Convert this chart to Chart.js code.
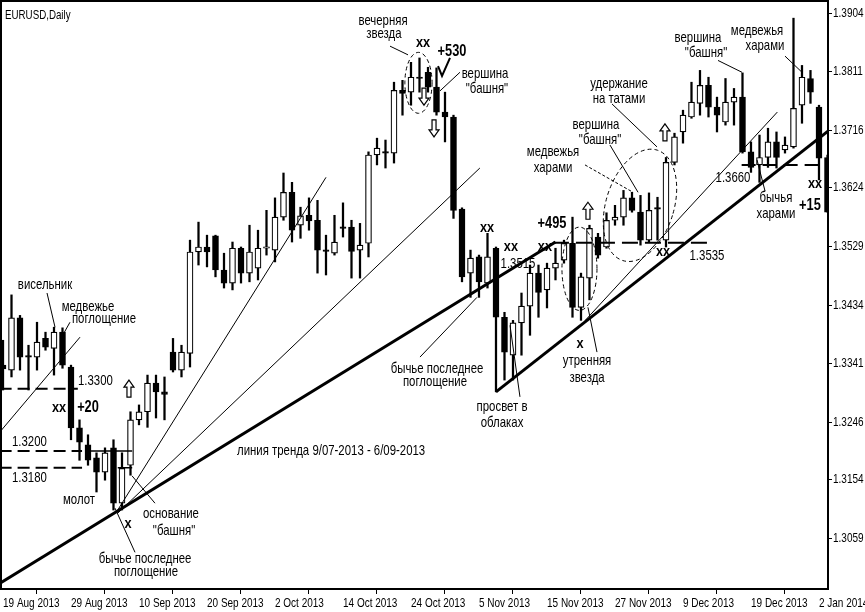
<!DOCTYPE html>
<html><head><meta charset="utf-8">
<script src="https://cdn.jsdelivr.net/npm/chart.js@4.4.0/dist/chart.umd.min.js"></script>
<style>html,body{margin:0;padding:0;background:#fff;}</style>
</head><body>
<canvas id="c" width="865" height="612"></canvas>
<script>
// ---- data ----
const dates = ["19 Aug 2013","20 Aug 2013","21 Aug 2013","22 Aug 2013","23 Aug 2013","26 Aug 2013","27 Aug 2013","28 Aug 2013",
"29 Aug 2013","30 Aug 2013","2 Sep 2013","3 Sep 2013","4 Sep 2013","5 Sep 2013","6 Sep 2013","9 Sep 2013",
"10 Sep 2013","11 Sep 2013","12 Sep 2013","13 Sep 2013","16 Sep 2013","17 Sep 2013","18 Sep 2013","19 Sep 2013",
"20 Sep 2013","23 Sep 2013","24 Sep 2013","25 Sep 2013","26 Sep 2013","27 Sep 2013","30 Sep 2013","1 Oct 2013",
"2 Oct 2013","3 Oct 2013","4 Oct 2013","7 Oct 2013","8 Oct 2013","9 Oct 2013","10 Oct 2013","11 Oct 2013",
"14 Oct 2013","15 Oct 2013","16 Oct 2013","17 Oct 2013","18 Oct 2013","21 Oct 2013","22 Oct 2013","23 Oct 2013",
"24 Oct 2013","25 Oct 2013","28 Oct 2013","29 Oct 2013","30 Oct 2013","31 Oct 2013","1 Nov 2013","4 Nov 2013",
"5 Nov 2013","6 Nov 2013","7 Nov 2013","8 Nov 2013","11 Nov 2013","12 Nov 2013","13 Nov 2013","14 Nov 2013",
"15 Nov 2013","18 Nov 2013","19 Nov 2013","20 Nov 2013","21 Nov 2013","22 Nov 2013","25 Nov 2013","26 Nov 2013",
"27 Nov 2013","28 Nov 2013","29 Nov 2013","2 Dec 2013","3 Dec 2013","4 Dec 2013","5 Dec 2013","6 Dec 2013",
"9 Dec 2013","10 Dec 2013","11 Dec 2013","12 Dec 2013","13 Dec 2013","16 Dec 2013","17 Dec 2013","18 Dec 2013",
"19 Dec 2013","20 Dec 2013","23 Dec 2013","24 Dec 2013","26 Dec 2013","27 Dec 2013","30 Dec 2013","31 Dec 2013",
"2 Jan 2014","3 Jan 2014"];

const openP = [1.3338,1.3330,1.3414,1.3353,1.3351,1.3381,1.3365,1.3391,1.3335,1.3237,
1.3210,1.3189,1.3166,1.3205,1.3116,1.3177,1.3250,1.3263,1.3309,1.3295,
1.3359,1.3330,1.3357,1.3520,1.3528,1.3546,1.3491,1.3470,1.3526,1.3486,
1.3494,1.3526,1.3523,1.3576,1.3616,1.3563,1.3579,1.3571,1.3523,1.3518,
1.3560,1.3560,1.3523,1.3534,1.3676,1.3681,1.3679,1.3780,1.3777,1.3801,
1.3809,1.3785,1.3745,1.3737,1.3589,1.3486,1.3512,1.3470,1.3526,1.3415,
1.3354,1.3406,1.3433,1.3486,1.3459,1.3494,1.3507,1.3534,1.3431,1.3478,
1.3544,1.3528,1.3571,1.3576,1.3607,1.3584,1.3539,1.3591,1.3539,1.3664,
1.3713,1.3737,1.3759,1.3788,1.3753,1.3729,1.3761,1.3769,1.3681,1.3660,
1.3672,1.3697,1.3684,1.3689,1.3756,1.3799,1.3753,1.3672];

const highP = [1.3378,1.3451,1.3418,1.3370,1.3407,1.3391,1.3399,1.3398,1.3338,1.3250,
1.3226,1.3197,1.3205,1.3218,1.3197,1.3263,1.3274,1.3322,1.3322,1.3319,
1.3381,1.3370,1.3539,1.3568,1.3547,1.3547,1.3518,1.3536,1.3528,1.3563,
1.3555,1.3587,1.3607,1.3647,1.3632,1.3592,1.3607,1.3603,1.3547,1.3579,
1.3599,1.3571,1.3566,1.3681,1.3703,1.3700,1.3793,1.3796,1.3825,1.3832,
1.3817,1.3816,1.3777,1.3740,1.3591,1.3523,1.3515,1.3550,1.3528,1.3423,
1.3410,1.3454,1.3499,1.3499,1.3502,1.3526,1.3539,1.3576,1.3486,1.3563,
1.3550,1.3583,1.3595,1.3619,1.3616,1.3611,1.3615,1.3608,1.3672,1.3711,
1.3748,1.3793,1.3812,1.3801,1.3769,1.3799,1.3783,1.3808,1.3697,1.3708,
1.3719,1.3713,1.3705,1.3896,1.3820,1.3812,1.3756,1.3676];

const lowP = [1.3298,1.3319,1.3330,1.3298,1.3330,1.3362,1.3322,1.3333,1.3218,1.3185,
1.3177,1.3134,1.3153,1.3105,1.3105,1.3161,1.3242,1.3238,1.3253,1.3250,
1.3327,1.3319,1.3335,1.3499,1.3496,1.3480,1.3462,1.3459,1.3470,1.3472,
1.3475,1.3515,1.3504,1.3571,1.3536,1.3542,1.3555,1.3486,1.3483,1.3515,
1.3544,1.3478,1.3478,1.3512,1.3660,1.3655,1.3663,1.3740,1.3756,1.3777,
1.3777,1.3740,1.3697,1.3574,1.3472,1.3447,1.3447,1.3462,1.3295,1.3314,
1.3314,1.3354,1.3386,1.3415,1.3430,1.3475,1.3502,1.3415,1.3410,1.3443,
1.3510,1.3526,1.3563,1.3563,1.3584,1.3531,1.3536,1.3539,1.3528,1.3660,
1.3695,1.3735,1.3740,1.3737,1.3713,1.3724,1.3724,1.3679,1.3648,1.3632,
1.3656,1.3655,1.3679,1.3687,1.3727,1.3759,1.3636,1.3584];

const closeP = [1.3332,1.3414,1.3351,1.3351,1.3375,1.3367,1.3391,1.3338,1.3237,1.3214,
1.3185,1.3166,1.3197,1.3116,1.3172,1.3250,1.3263,1.3309,1.3295,1.3291,
1.3330,1.3359,1.3520,1.3528,1.3520,1.3491,1.3470,1.3526,1.3486,1.3520,
1.3526,1.3528,1.3576,1.3616,1.3555,1.3578,1.3570,1.3523,1.3521,1.3536,
1.3558,1.3521,1.3531,1.3676,1.3687,1.3679,1.3780,1.3775,1.3801,1.3799,
1.3785,1.3745,1.3737,1.3587,1.3480,1.3510,1.3472,1.3512,1.3415,1.3359,
1.3406,1.3433,1.3486,1.3455,1.3494,1.3502,1.3534,1.3431,1.3480,1.3558,
1.3515,1.3571,1.3576,1.3607,1.3587,1.3539,1.3587,1.3589,1.3664,1.3705,
1.3740,1.3761,1.3788,1.3753,1.3740,1.3761,1.3769,1.3681,1.3656,1.3672,
1.3697,1.3672,1.3692,1.3751,1.3801,1.3777,1.3671,1.3584];

const priceTicks = [1.3904,1.3811,1.3716,1.3624,1.3529,1.3434,1.3341,1.3246,1.3154,1.3059];
const priceTickLabels = ["1.3904","1.3811","1.3716","1.3624","1.3529","1.3434","1.3341","1.3246","1.3154","1.3059"];
const dateTickIdx = [0,8,16,24,32,40,48,56,64,72,80,88,96];

// ---- annotations (bar index, price) ----
const notes = [
 [4.94,1.3467,'висельник'],[10.0,1.3431,'медвежье'],[11.88,1.3412,'поглощение'],
 [8.82,1.3312,'1.3300','left'],[6.59,1.3269,'xx','center',1],[10.0,1.3269,'+20','center',2],
 [1.06,1.3214,'1.3200','left'],[1.06,1.3156,'1.3180','left'],[8.94,1.3121,'молот'],
 [19.76,1.3099,'основание'],[20.12,1.3071,'"башня"'],[16.71,1.3026,'бычье последнее'],[16.82,1.3005,'поглощение'],
 [14.71,1.3082,'x','center',1],[27.53,1.3200,'линия тренда 9/07-2013 - 6/09-2013','left'],
 [44.71,1.3891,'вечерняя'],[44.82,1.3870,'звезда'],[49.41,1.3857,'xx','center',1],[52.82,1.3843,'+530','center',2],
 [56.71,1.3806,'вершина'],[56.94,1.3782,'"башня"'],[51.06,1.3332,'бычье последнее'],[50.82,1.3311,'поглощение'],
 [56.94,1.3558,'xx','center',1],[59.76,1.3528,'xx','center',1],[60.59,1.3501,'1.3515'],
 [63.76,1.3528,'xx','center',1],[64.59,1.3565,'+495','center',2],[58.71,1.3271,'просвет в'],[58.71,1.3245,'облаках'],
 [67.88,1.3372,'x','center',1],[68.71,1.3345,'утренняя'],[68.71,1.3317,'звезда'],
 [64.71,1.3681,'медвежья'],[64.71,1.3656,'харами'],[69.76,1.3724,'вершина'],[70.24,1.3700,'"башня"'],
 [72.47,1.3790,'удержание'],[72.47,1.3767,'на татами'],[77.65,1.3520,'xx','center',1],[82.82,1.3513,'1.3535'],
 [81.76,1.3864,'вершина'],[82.71,1.3840,'"башня"'],[88.71,1.3875,'медвежья'],[89.65,1.3851,'харами'],
 [85.88,1.3639,'1.3660'],[90.94,1.3607,'бычья'],[90.94,1.3581,'харами'],
 [95.53,1.3629,'xx','center',1],[94.94,1.3595,'+15','center',2]
];
const lines = [
 {p:[-0.5,1.2986,65,1.3536],w:3},{p:[58,1.3295,97.3,1.3717],w:3},
 {p:[-0.4,1.3230,9.06,1.3383],w:1},{p:[13.5,1.3105,38,1.3640],w:1},
 {p:[13.5,1.3100,56.1,1.3655],w:1},{p:[68.5,1.3410,91.1,1.3745],w:1},
 {p:[-0.4,1.3300,8.8,1.3300],w:2,d:[12,6]},{p:[-0.4,1.3200,9.3,1.3200],w:2,d:[12,6]},
 {p:[10.0,1.3200,15.2,1.3200],w:1.5},{p:[-0.4,1.3173,9.3,1.3173],w:2,d:[12,6]},
 {p:[13.5,1.3173,15.2,1.3173],w:1.5},{p:[64.7,1.3535,82.9,1.3535],w:2,d:[16,7]},
 {p:[86.9,1.3660,97.3,1.3660],w:2,d:[14,7]},
 {p:[5.18,1.3454,6.12,1.3399],w:1},{p:[7.88,1.3407,7.06,1.3387],w:1},
 {p:[17.88,1.3116,15.18,1.3160],w:1},{p:[15.53,1.3037,13.18,1.3108],w:1},
 {p:[45.53,1.3851,47.65,1.3837],w:1},{p:[53.76,1.3809,51.41,1.3779],w:1},
 {p:[49.06,1.3351,55.76,1.3447],w:1},{p:[60.82,1.3287,59.65,1.3402],w:1},
 {p:[69.88,1.3359,68.82,1.3431],w:1},{p:[68.47,1.3660,74.12,1.3616],w:1,d:[3,2]},
 {p:[71.41,1.3692,74.71,1.3616],w:1},{p:[71.65,1.3758,76.94,1.3689],w:1},
 {p:[84.12,1.3828,86.94,1.3809],w:1},{p:[92.0,1.3835,94.0,1.3809],w:1},
 {p:[89.65,1.3618,88.71,1.3668],w:1}
];
const ellipses = [
 {c:[48.88,1.3792],rx:1.6,ry:0.0049,rot:0},
 {c:[67.82,1.3493],rx:2.06,ry:0.0067,rot:0},
 {c:[74.94,1.3595],rx:4.0,ry:0.0093,rot:0.3}
];
const arrows = [
 {x:14.82,y:1.3314,up:true},{x:68.82,y:1.3600,up:true},{x:77.88,y:1.3726,up:true},
 {x:49.53,y:1.3756,up:false},{x:50.71,y:1.3705,up:false}
];
const checkMark = [51.18,1.3819,51.65,1.3803,52.59,1.3832];

const FONT = "'Liberation Sans',Arial,sans-serif";

const wicks = openP.map((o,i)=>({x:i, y:[lowP[i], highP[i]]}));
const bodies = openP.map((o,i)=>({x:i, y:[o, closeP[i]]}));
const bodyColors = openP.map((o,i)=> closeP[i] >= o ? '#ffffff' : '#000000');

// axis labels drawn horizontally condensed (narrow look of the original)
function condensedLabels(k){
  return function(chartArea){
    const ctx = this.ctx;
    const items = this.getLabelItems(chartArea);
    for (const it of items){
      const o = it.options;
      ctx.save();
      ctx.translate(o.translation[0], o.translation[1]);
      ctx.scale(k, 1);
      ctx.font = it.font.string;
      ctx.fillStyle = o.color;
      ctx.textAlign = o.textAlign;
      ctx.textBaseline = o.textBaseline;
      ctx.fillText(it.label, 0, it.textOffset);
      ctx.restore();
    }
  };
}

function condText(ctx, txt, x, y, k){
  ctx.save(); ctx.translate(x, y); ctx.scale(k, 1); ctx.fillText(txt, 0, 0); ctx.restore();
}

const annot = {
  id:'annot',
  afterDatasetsDraw(chart){
    const {ctx, chartArea:a, scales:{x,y}} = chart;
    const X = v => x.getPixelForValue(v), Y = v => y.getPixelForValue(v);
    ctx.save();
    ctx.beginPath(); ctx.rect(a.left, a.top, a.right-a.left, a.bottom-a.top); ctx.clip();
    ctx.strokeStyle = '#000'; ctx.fillStyle = '#000'; ctx.lineCap = 'butt';
    for (const ln of lines){
      ctx.lineWidth = ln.w; ctx.setLineDash(ln.d || []);
      ctx.beginPath(); ctx.moveTo(X(ln.p[0]), Y(ln.p[1])); ctx.lineTo(X(ln.p[2]), Y(ln.p[3])); ctx.stroke();
    }
    ctx.setLineDash([4,3]); ctx.lineWidth = 1;
    for (const e of ellipses){
      const cx = X(e.c[0]), cy = Y(e.c[1]);
      const rx = Math.abs(X(e.c[0]+e.rx)-cx), ry = Math.abs(Y(e.c[1]+e.ry)-cy);
      ctx.beginPath(); ctx.ellipse(cx, cy, rx, ry, e.rot, 0, Math.PI*2); ctx.stroke();
    }
    ctx.setLineDash([]);
    ctx.lineWidth = 2; ctx.beginPath();
    ctx.moveTo(X(checkMark[0]),Y(checkMark[1])); ctx.lineTo(X(checkMark[2]),Y(checkMark[3])); ctx.lineTo(X(checkMark[4]),Y(checkMark[5]));
    ctx.stroke();
    ctx.lineWidth = 1.2;
    for (const ar of arrows){
      const tx = X(ar.x), ty = Y(ar.y), s = ar.up ? 1 : -1;
      ctx.beginPath();
      ctx.moveTo(tx, ty); ctx.lineTo(tx+5, ty+7*s); ctx.lineTo(tx+2, ty+7*s); ctx.lineTo(tx+2, ty+17*s);
      ctx.lineTo(tx-2, ty+17*s); ctx.lineTo(tx-2, ty+7*s); ctx.lineTo(tx-5, ty+7*s); ctx.closePath();
      ctx.fillStyle = '#fff'; ctx.fill(); ctx.stroke();
    }
    ctx.fillStyle = '#000'; ctx.textBaseline = 'middle';
    for (const n of notes){
      let k;
      if (n[4] === 2) { ctx.font = 'bold 16px ' + FONT; k = 0.8; }
      else if (n[4] === 1) { ctx.font = 'bold 15px ' + FONT; k = 0.85; }
      else { ctx.font = '15px ' + FONT; k = 0.76; }
      ctx.textAlign = n[3] || 'center';
      condText(ctx, n[2], X(n[0]), Y(n[1]), k);
    }
    ctx.font = "13px " + FONT; ctx.textAlign = 'left';
    condText(ctx, 'EURUSD,Daily', a.left+3, a.top+13, 0.75);
    ctx.restore();
    ctx.save();
    ctx.strokeStyle = '#000'; ctx.lineWidth = 2;
    ctx.strokeRect(a.left-1, a.top-1, a.right-a.left+1, a.bottom-a.top+1);
    ctx.restore();
  }
};

new Chart(document.getElementById('c'), {
  type:'bar',
  data:{datasets:[
    {label:'body', data:bodies, backgroundColor:bodyColors, borderColor:'#000', borderWidth:1.2,
     borderSkipped:false, barThickness:6, minBarLength:1.5, grouped:false, order:1},
    {label:'wick', data:wicks, backgroundColor:'#000', borderWidth:0, barThickness:1.6, grouped:false, order:2}
  ]},
  options:{
    responsive:false, animation:false, events:[],
    layout:{padding:{left:2,top:2,right:0,bottom:0}},
    plugins:{legend:{display:false}, tooltip:{enabled:false}},
    scales:{
      x:{type:'linear', min:-0.1176, max:97.06, offset:false,
         grid:{drawOnChartArea:false, drawTicks:true, tickLength:5, color:'#000', lineWidth:1},
         border:{display:false},
         afterBuildTicks: s => { s.ticks = dateTickIdx.map(v=>({value:v})); },
         afterFit: s => { s.height = 23; s.paddingLeft = 0; s.paddingRight = 0; s.drawLabels = condensedLabels(0.74); },
         ticks:{autoSkip:false, maxRotation:0, minRotation:0, align:'start', padding:1, color:'#000',
                font:{family:FONT, size:13.5}, callback: v => dates[v]}
      },
      y:{position:'right', min:1.2978, max:1.3922,
         grid:{drawOnChartArea:false, drawTicks:true, tickLength:4, color:'#000', lineWidth:1},
         border:{display:false},
         afterBuildTicks: s => { s.ticks = priceTicks.map(v=>({value:v})); },
         afterFit: s => { s.width = 37; s.paddingTop = 0; s.paddingBottom = 0; s.drawLabels = condensedLabels(0.74); },
         ticks:{autoSkip:false, padding:1, color:'#000', font:{family:FONT, size:13.5},
                callback: (v,i) => priceTickLabels[i]}
      }
    }
  },
  plugins:[annot]
});
</script>
</body></html>
